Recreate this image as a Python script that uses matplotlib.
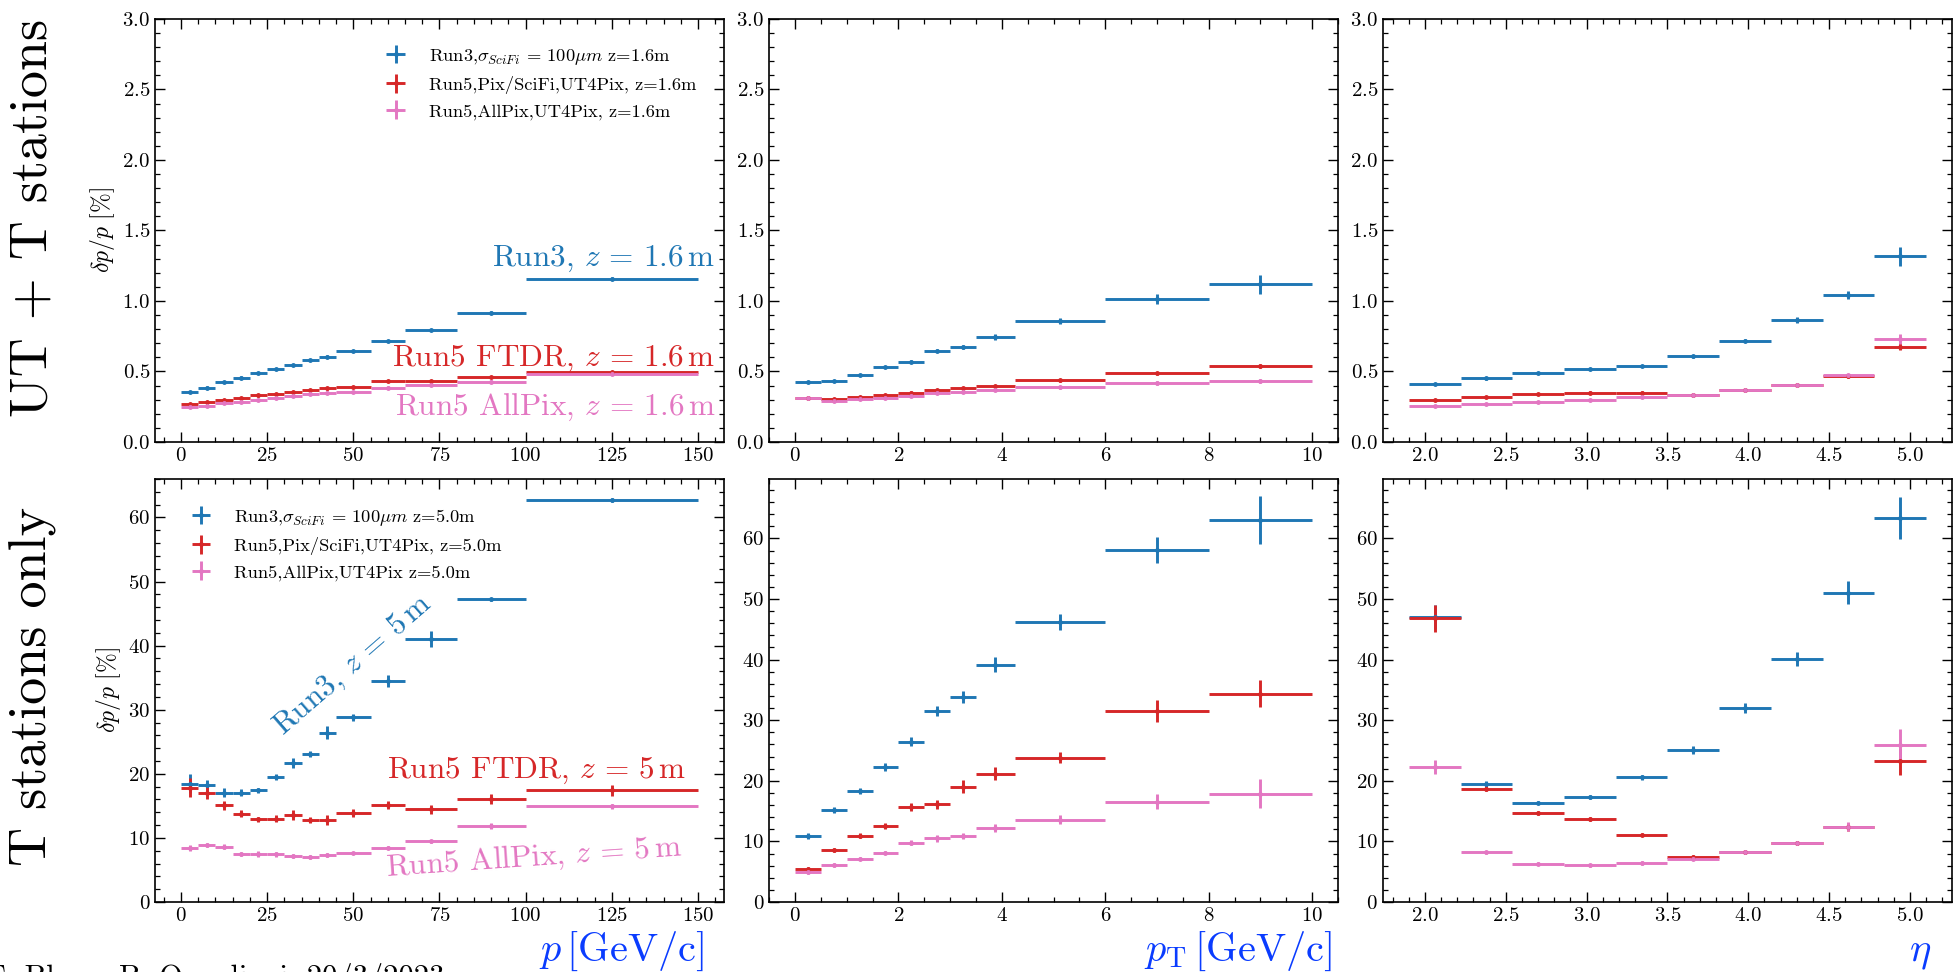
import numpy as np
import matplotlib
matplotlib.use("Agg")
import matplotlib.pyplot as plt
from matplotlib.ticker import MultipleLocator

# LaTeX-like look
plt.rcParams.update({
    'font.family': 'serif',
    'font.serif': ['cmr10'],
    'mathtext.fontset': 'cm',
    'axes.formatter.use_mathtext': True,
    'axes.linewidth': 1.2,
    'xtick.direction': 'in', 'ytick.direction': 'in',
    'xtick.top': True, 'ytick.right': True,
    'xtick.major.size': 7, 'ytick.major.size': 7,
    'xtick.minor.size': 3.5, 'ytick.minor.size': 3.5,
    'xtick.major.width': 1.0, 'ytick.major.width': 1.0,
    'xtick.minor.width': 0.9, 'ytick.minor.width': 0.9,
    'xtick.labelsize': 15, 'ytick.labelsize': 15,
})

# bin edges
p_edges = [0, 5, 10, 15, 20, 25, 30, 35, 40, 45, 55, 65, 80, 100, 150]
pt_edges = [0, 0.5, 1, 1.5, 2, 2.5, 3, 3.5, 4.25, 6, 8, 10]
eta_edges = [1.9, 2.22, 2.54, 2.86, 3.18, 3.5, 3.82, 4.14, 4.46, 4.78, 5.1]

# UT + T stations (z = 1.6 m)
ut_p_run3 = [0.355, 0.386, 0.423, 0.457, 0.490, 0.516, 0.544, 0.580, 0.606, 0.643, 0.717, 0.795, 0.918, 1.159]
ut_p_ftdr = [0.267, 0.280, 0.300, 0.310, 0.330, 0.340, 0.355, 0.370, 0.380, 0.390, 0.430, 0.435, 0.460, 0.497]
ut_p_allpix = [0.248, 0.258, 0.274, 0.286, 0.300, 0.310, 0.324, 0.338, 0.350, 0.357, 0.386, 0.405, 0.428, 0.480]
ut_p_run3_err = [0.008] * 14
ut_p_ftdr_err = [0.008] * 14
ut_p_allpix_err = [0.008] * 14

ut_pt_run3 = [0.423, 0.433, 0.473, 0.532, 0.570, 0.648, 0.674, 0.745, 0.859, 1.017, 1.117]
ut_pt_ftdr = [0.310, 0.303, 0.317, 0.334, 0.350, 0.371, 0.381, 0.397, 0.438, 0.487, 0.539]
ut_pt_allpix = [0.310, 0.291, 0.303, 0.315, 0.326, 0.348, 0.352, 0.369, 0.388, 0.419, 0.435]
ut_pt_run3_err = [0.008, 0.008, 0.008, 0.008, 0.008, 0.008, 0.012, 0.02, 0.02, 0.035, 0.07]
ut_pt_ftdr_err = [0.008, 0.008, 0.008, 0.008, 0.008, 0.008, 0.008, 0.01, 0.01, 0.012, 0.015]
ut_pt_allpix_err = [0.008, 0.008, 0.008, 0.008, 0.008, 0.008, 0.008, 0.01, 0.01, 0.012, 0.015]

ut_eta_run3 = [0.413, 0.451, 0.491, 0.520, 0.539, 0.607, 0.718, 0.867, 1.042, 1.316]
ut_eta_ftdr = [0.300, 0.319, 0.338, 0.350, 0.350, 0.335, 0.366, 0.404, 0.465, 0.676]
ut_eta_allpix = [0.253, 0.269, 0.283, 0.300, 0.317, 0.335, 0.366, 0.404, 0.472, 0.730]
ut_eta_run3_err = [0.008, 0.008, 0.008, 0.008, 0.008, 0.008, 0.01, 0.02, 0.03, 0.065]
ut_eta_ftdr_err = [0.008, 0.008, 0.008, 0.008, 0.008, 0.008, 0.008, 0.01, 0.012, 0.025]
ut_eta_allpix_err = [0.008, 0.008, 0.008, 0.008, 0.008, 0.008, 0.008, 0.01, 0.012, 0.035]

# T stations only (z = 5 m)
t_p_run3 = [18.47, 18.2, 17.07, 17.07, 17.4, 19.5, 21.7, 23.1, 26.4, 28.8, 34.5, 41.05, 47.2, 62.75]
t_p_ftdr = [17.85, 17.0, 15.1, 13.8, 12.9, 13.0, 13.6, 12.8, 12.75, 13.85, 15.1, 14.5, 16.1, 17.4]
t_p_allpix = [8.43, 8.95, 8.6, 7.5, 7.5, 7.45, 7.2, 7.08, 7.34, 7.65, 8.5, 9.47, 11.86, 14.93]
t_p_run3_err = [1.5, 0.8, 0.7, 0.6, 0.4, 0.5, 0.8, 0.4, 1.0, 0.6, 0.9, 1.3, 0.2, 0.3]
t_p_ftdr_err = [1.5, 0.9, 0.7, 0.6, 0.4, 0.5, 0.8, 0.5, 0.8, 0.6, 0.6, 0.7, 0.8, 0.8]
t_p_allpix_err = [0.4, 0.3, 0.4, 0.3, 0.4, 0.4, 0.3, 0.3, 0.3, 0.2, 0.2, 0.2, 0.5, 0.4]

t_pt_run3 = [10.85, 15.15, 18.35, 22.26, 26.45, 31.57, 33.9, 39.17, 46.2, 58.07, 63.03]
t_pt_ftdr = [5.4, 8.6, 10.96, 12.5, 15.65, 16.1, 19.06, 21.16, 23.8, 31.46, 34.4]
t_pt_allpix = [5.0, 6.1, 7.16, 8.15, 9.8, 10.5, 10.85, 12.23, 13.6, 16.58, 17.85]
t_pt_run3_err = [0.5, 0.5, 0.5, 0.6, 0.7, 0.8, 1.0, 1.2, 1.3, 2.1, 3.9]
t_pt_ftdr_err = [0.3, 0.3, 0.4, 0.5, 0.7, 0.8, 1.0, 1.1, 0.9, 1.8, 2.3]
t_pt_allpix_err = [0.3, 0.3, 0.3, 0.3, 0.4, 0.6, 0.5, 0.7, 0.8, 1.3, 2.4]

t_eta_run3 = [47.05, 19.4, 16.4, 17.3, 20.55, 25.07, 32.0, 40.1, 51.07, 63.36]
t_eta_ftdr = [46.8, 18.68, 14.65, 13.66, 11.13, 7.38, 8.2, 9.7, 12.4, 23.2]
t_eta_allpix = [22.3, 8.2, 6.34, 6.06, 6.45, 7.16, 8.2, 9.7, 12.45, 25.95]
t_eta_run3_err = [2.0, 0.5, 0.3, 0.3, 0.4, 0.7, 0.8, 1.2, 1.9, 3.5]
t_eta_ftdr_err = [2.2, 0.4, 0.3, 0.3, 0.3, 0.3, 0.3, 0.3, 0.6, 2.2]
t_eta_allpix_err = [1.1, 0.3, 0.2, 0.2, 0.3, 0.3, 0.3, 0.3, 0.7, 2.6]

labels_top = [r'Run3,$\sigma_{SciFi}$ = 100$\mu m$ z=1.6m',
              'Run5,Pix/SciFi,UT4Pix, z=1.6m',
              'Run5,AllPix,UT4Pix, z=1.6m']
labels_bot = [r'Run3,$\sigma_{SciFi}$ = 100$\mu m$ z=5.0m',
              'Run5,Pix/SciFi,UT4Pix, z=5.0m',
              'Run5,AllPix,UT4Pix z=5.0m']
colors = ['#1f77b4', '#d62728', '#e377c2']
label_blue = '#0a3cff'


def draw(ax, edges, series, errs, labels=None):
    edges = np.array(edges)
    centers = 0.5 * (edges[1:] + edges[:-1])
    half = 0.5 * (edges[1:] - edges[:-1])
    for vals, ee, col, lab in zip(series, errs, colors, labels or [None] * 3):
        ax.errorbar(centers, vals, xerr=half, yerr=ee, fmt='.', ms=5, color=col,
                    elinewidth=2.1, capsize=0, label=lab)


fig = plt.figure(figsize=(19.55, 9.72), dpi=100)
lefts = [0.0793, 0.3934, 0.7074]
bottoms = [0.5453, 0.072]
w, h = 0.291, 0.4352
axes = [[fig.add_axes([l, b, w, h]) for l in lefts] for b in bottoms]

draw(axes[0][0], p_edges, [ut_p_run3, ut_p_ftdr, ut_p_allpix],
     [ut_p_run3_err, ut_p_ftdr_err, ut_p_allpix_err], labels_top)
draw(axes[0][1], pt_edges, [ut_pt_run3, ut_pt_ftdr, ut_pt_allpix],
     [ut_pt_run3_err, ut_pt_ftdr_err, ut_pt_allpix_err])
draw(axes[0][2], eta_edges, [ut_eta_run3, ut_eta_ftdr, ut_eta_allpix],
     [ut_eta_run3_err, ut_eta_ftdr_err, ut_eta_allpix_err])
draw(axes[1][0], p_edges, [t_p_run3, t_p_ftdr, t_p_allpix],
     [t_p_run3_err, t_p_ftdr_err, t_p_allpix_err], labels_bot)
draw(axes[1][1], pt_edges, [t_pt_run3, t_pt_ftdr, t_pt_allpix],
     [t_pt_run3_err, t_pt_ftdr_err, t_pt_allpix_err])
draw(axes[1][2], eta_edges, [t_eta_run3, t_eta_ftdr, t_eta_allpix],
     [t_eta_run3_err, t_eta_ftdr_err, t_eta_allpix_err])

# axis ranges and ticks
for row in range(2):
    axes[row][0].xaxis.set_major_locator(MultipleLocator(25))
    axes[row][0].xaxis.set_minor_locator(MultipleLocator(5))
    axes[row][1].xaxis.set_major_locator(MultipleLocator(2))
    axes[row][1].xaxis.set_minor_locator(MultipleLocator(0.5))
    axes[row][2].xaxis.set_major_locator(MultipleLocator(0.5))
    axes[row][2].xaxis.set_minor_locator(MultipleLocator(0.1))
for ax in axes[0]:
    ax.set_ylim(0, 3.0)
    ax.yaxis.set_major_locator(MultipleLocator(0.5))
    ax.yaxis.set_minor_locator(MultipleLocator(0.1))
for ax, top in zip(axes[1], [66.0, 69.8, 69.8]):
    ax.set_ylim(0, top)
    ax.yaxis.set_major_locator(MultipleLocator(10))
    ax.yaxis.set_minor_locator(MultipleLocator(2))
for ax in sum(axes, []):
    ax.tick_params(which='both', top=True, right=True)

for row in range(2):
    axes[row][0].set_ylabel(r'$\delta p/p$ [%]', fontsize=17)

# legends
axes[0][0].legend(loc='upper right', frameon=False, fontsize=13.3, borderaxespad=1.1)
axes[1][0].legend(loc='upper left', frameon=False, fontsize=13.3, borderaxespad=1.1)

# annotations
ax = axes[0][0]
ax.text(155, 1.25, r'Run3, $z\,=\,1.6\,$m', color=colors[0], fontsize=22.5, ha='right', va='baseline')
ax.text(155, 0.54, r'Run5 FTDR, $z\,=\,1.6\,$m', color=colors[1], fontsize=22.5, ha='right', va='baseline')
ax.text(155, 0.19, r'Run5 AllPix, $z\,=\,1.6\,$m', color=colors[2], fontsize=22.5, ha='right', va='baseline')

ax = axes[1][0]
ax.text(29.5, 26.0, r'Run3, $z\,=\,5\,$m', color=colors[0], fontsize=22.5, ha='left', va='baseline',
        rotation=41, rotation_mode='anchor')
ax.text(146.5, 19.35, r'Run5 FTDR, $z\,=\,5\,$m', color=colors[1], fontsize=22.5, ha='right', va='baseline')
ax.text(59.7, 4.0, r'Run5 AllPix, $z\,=\,5\,$m', color=colors[2], fontsize=22.5, ha='left', va='baseline',
        rotation=4, rotation_mode='anchor')

# x labels
axes[1][0].text(0.965, -0.1395, r'$p\,$[GeV/c]', transform=axes[1][0].transAxes, color=label_blue,
                fontsize=29, ha='right', va='baseline')
axes[1][1].text(0.989, -0.1395, r'$p_{\mathrm{T}}\,$[GeV/c]', transform=axes[1][1].transAxes, color=label_blue,
                fontsize=29, ha='right', va='baseline')
axes[1][2].text(0.963, -0.1395, r'$\eta$', transform=axes[1][2].transAxes, color=label_blue,
                fontsize=29, ha='right', va='baseline')

# row labels
fig.text(0.005, 0.776, 'UT + T stations', rotation=90, ha='left', va='center', fontsize=39)
fig.text(0.005, 0.294, 'T stations only', rotation=90, ha='left', va='center', fontsize=39)

# credit line, cut by the lower edge as in the original
fig.text(-0.007, 0.0093, 'F. Blanc, B. Quaglioni, 20/3/2023', ha='left', va='top', fontsize=22)

fig.savefig('out.png', dpi=100)
